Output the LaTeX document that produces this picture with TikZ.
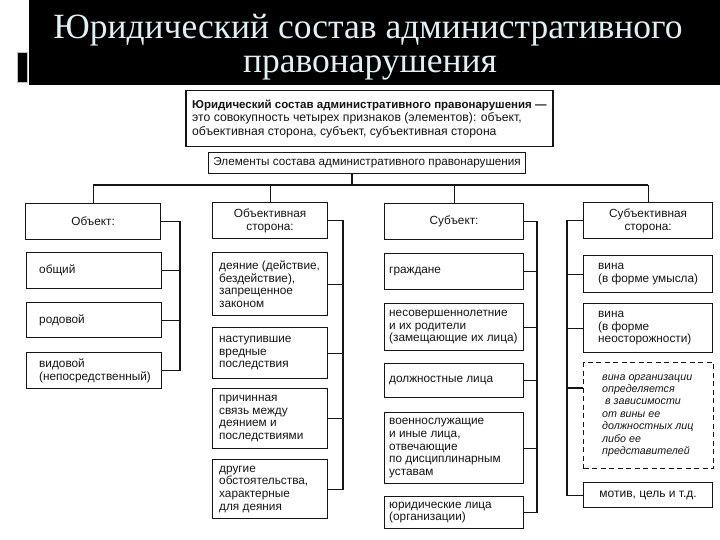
\documentclass[tikz,border=0pt]{standalone}
\usepackage{fontspec}
\setmainfont{Liberation Sans}
\newfontfamily\ttlfont{Liberation Serif}
\usetikzlibrary{calc}
\definecolor{ttlc}{HTML}{E2F0F5}
\definecolor{ink}{HTML}{151515}
\begin{document}
\begin{tikzpicture}[x=1pt,y=-1pt,
  bx/.style={draw=ink, line width=1.2pt, anchor=north west, inner sep=0pt, align=center, text=ink, font=\fontsize{11.8}{12.7}\selectfont},
  dbx/.style={bx, dash pattern=on 5pt off 3.5pt, line width=1.2pt},
  tx/.style={anchor=west, align=left, inner sep=0pt, text=ink, font=\fontsize{11.8}{12.7}\selectfont},
  ln/.style={draw=ink, line width=1.1pt},
  ttl/.style={anchor=base, inner sep=0pt, text=ttlc, font=\ttlfont\fontsize{35.5}{40}\selectfont}]
\useasboundingbox (0,0) rectangle (720,540);
\fill[white] (0,0) rectangle (720,540);
% title band
\fill[black] (29,0) rectangle (720,85);
\filldraw[fill=black, draw=black!25, line width=0.6pt] (17,52) rectangle (27,82);
\node[ttl] (t1) at (368,39) {Юридический состав административного};
\node[ttl] (t2) at (370,73) {правонарушения};
% top boxes
\node[bx, line width=1.5pt, minimum width=367pt, minimum height=56pt] (tb) at (185,90) {};
\node[tx, font=\fontsize{12.2}{13.4}\selectfont] (tbt) at ($(tb.west)+(7,0)$)
 {{\fontsize{11.5}{13.4}\selectfont\bfseries Юридический состав административного правонарушения —}\\
  это совокупность четырех признаков (элементов): объект,\\
  объективная сторона, субъект, субъективная сторона};
\node[bx, minimum width=317pt, minimum height=21pt, font=\fontsize{11.7}{13}\selectfont] (el) at (208,152) {Элементы состава административного правонарушения};
% column 1
\node[bx, minimum width=135pt, minimum height=36pt] (obj) at (25,203) {Объект:};
\node[bx, minimum width=135pt, minimum height=36pt] (ob1) at (26,252) {};
\node[bx, minimum width=135pt, minimum height=35pt] (ob2) at (26,302) {};
\node[bx, minimum width=135pt, minimum height=36pt] (ob3) at (26,352) {};
\node[tx] (ob1t) at ($(ob1.west)+(13,0)$) {общий};
\node[tx] (ob2t) at ($(ob2.west)+(13,0)$) {родовой};
\node[tx] (ob3t) at ($(ob3.west)+(13,0)$) {видовой\\(непосредственный)};
% column 2
\node[bx, minimum width=115pt, minimum height=36pt] (os) at (212,202) {Объективная\\сторона:};
\node[bx, minimum width=115pt, minimum height=63pt] (os1) at (212,252) {};
\node[bx, minimum width=115pt, minimum height=51pt] (os2) at (212,327) {};
\node[bx, minimum width=115pt, minimum height=60pt] (os3) at (212,388) {};
\node[bx, minimum width=115pt, minimum height=59pt] (os4) at (212,459) {};
\node[tx] (os1t) at ($(os1.west)+(7,0)$) {деяние (действие,\\бездействие),\\запрещенное\\законом};
\node[tx] (os2t) at ($(os2.west)+(7,0)$) {наступившие\\вредные\\последствия};
\node[tx] (os3t) at ($(os3.west)+(7,0)$) {причинная\\связь между\\деянием и\\последствиями};
\node[tx] (os4t) at ($(os4.west)+(7,0)$) {другие\\обстоятельства,\\характерные\\для деяния};
% column 3
\node[bx, minimum width=139pt, minimum height=36pt] (su) at (384,203) {Субъект:};
\node[bx, minimum width=139pt, minimum height=36pt] (su1) at (384,253) {};
\node[bx, minimum width=139pt, minimum height=47pt] (su2) at (384,303) {};
\node[bx, minimum width=139pt, minimum height=34pt] (su3) at (384,363) {};
\node[bx, minimum width=139pt, minimum height=71pt] (su4) at (384,412) {};
\node[bx, minimum width=139pt, minimum height=32pt] (su5) at (384,496) {};
\node[tx] (su1t) at ($(su1.west)+(5,0)$) {граждане};
\node[tx] (su2t) at ($(su2.west)+(5,0)$) {несовершеннолетние\\и их родители\\(замещающие их лица)};
\node[tx] (su3t) at ($(su3.west)+(5,0)$) {должностные лица};
\node[tx] (su4t) at ($(su4.west)+(5,0)$) {военнослужащие\\и иные лица,\\отвечающие\\по дисциплинарным\\уставам};
\node[tx] (su5t) at ($(su5.west)+(5,0)$) {юридические лица\\(организации)};
% column 4
\node[bx, minimum width=129pt, minimum height=36pt] (ss) at (583,202) {Субъективная\\сторона:};
\node[bx, minimum width=129pt, minimum height=37pt] (ss1) at (583,255) {};
\node[bx, minimum width=129pt, minimum height=49pt] (ss2) at (583,303) {};
\node[dbx, minimum width=130pt, minimum height=106pt] (ss3) at (583,362) {};
\node[bx, minimum width=129pt, minimum height=25pt, font=\fontsize{12}{13}\selectfont] (ss4) at (583,482) {мотив, цель и т.д.};
\node[tx] (ss1t) at ($(ss1.west)+(15,0)$) {вина\\(в форме умысла)};
\node[tx] (ss2t) at ($(ss2.west)+(15,0)$) {вина\\(в форме\\неосторожности)};
\node[tx, font=\itshape\fontsize{10.7}{12.4}\selectfont] (ss3t) at ($(ss3.west)+(19,0)$)
 {вина организации\\определяется\\\ в зависимости\\от вины ее\\должностных лиц\\либо ее\\представителей};
% connectors: top
\coordinate (hb) at (0,185);
\coordinate (elx) at (352,0);
\draw[ln] (el.south -| elx) -- (hb -| elx);
\draw[ln] (hb -| obj.north) -- (hb -| ss.north);
\foreach \n in {obj,os,su,ss} \draw[ln] (hb -| \n.north) -- (\n.north);
% brackets
\coordinate (b1) at (180,0);
\coordinate (b2) at (343,0);
\coordinate (b3) at (537,0);
\coordinate (b4) at (567,0);
\draw[ln] (obj.east) -- (obj.east -| b1) -- (ob3.east -| b1) -- (ob3.east);
\foreach \n in {ob1,ob2} \draw[ln] (\n.east) -- (\n.east -| b1);
\draw[ln] (os.east) -- (os.east -| b2) -- (os4.east -| b2) -- (os4.east);
\foreach \n in {os1,os2,os3} \draw[ln] (\n.east) -- (\n.east -| b2);
\draw[ln] (su.east) -- (su.east -| b3) -- (su5.east -| b3) -- (su5.east);
\foreach \n in {su1,su2,su3,su4} \draw[ln] (\n.east) -- (\n.east -| b3);
\draw[ln] (ss.west) -- (ss.west -| b4) -- (ss4.west -| b4) -- (ss4.west);
\foreach \n in {ss1,ss2} \draw[ln] (\n.west) -- (\n.west -| b4);
\coordinate (c3) at (0,388);
\draw[ln] (ss3.west |- c3) -- (b4 |- c3);
\end{tikzpicture}
\end{document}
